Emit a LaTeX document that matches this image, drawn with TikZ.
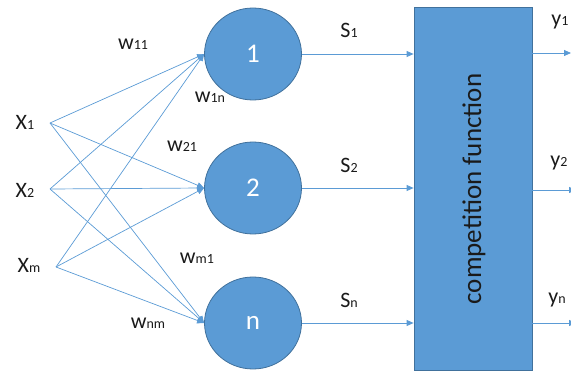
\documentclass[tikz,border=0pt]{standalone}
\usepackage{fontspec}
\setmainfont{Carlito}
\usetikzlibrary{arrows.meta,shapes.geometric}
\definecolor{blueF}{HTML}{5B9BD5}
\definecolor{blueD}{HTML}{41719C}
\definecolor{txt}{HTML}{1A1A1A}
\newcommand\mysub[1]{{\fontsize{14}{14}\selectfont #1}}
\tikzset{
  neuron/.style={ellipse, draw=blueD, fill=blueF, line width=0.8pt, minimum width=97pt, minimum height=92pt, inner sep=0pt, text=white, font=\fontsize{27}{27}\selectfont},
  lbl/.style={text=txt, inner sep=0pt, font=\fontsize{22}{22}\selectfont},
  conn/.style={draw=blueF, line width=0.8pt, -{Triangle[length=7pt,width=6pt]}},
  wire/.style={draw=blueF, line width=0.7pt, -{Triangle[length=7pt,width=6pt]}},
}
\begin{document}
\begin{tikzpicture}[x=1pt,y=-1pt]
\useasboundingbox (0,0) rectangle (571,374);
% competition box
\node (box) [draw=blueD, fill=blueF, line width=0.8pt, minimum width=118pt, minimum height=363pt, inner sep=0pt] at (473,188.5) {};
\node (boxtxt) [rotate=90, text=txt, font=\fontsize{27}{27}\selectfont, inner sep=0pt] at (474,189) {competition function};
% neurons
\node (n1) [neuron] at (253,54) {1};
\node (n2) [neuron] at (253,188) {2};
\node (nn) [neuron] at (253,323) {n};
% inputs
\node (x1) [lbl] at (25,122) {X\mysub{1}};
\node (x2) [lbl] at (25,190) {X\mysub{2}};
\node (xm) [lbl] at (29,265) {X\mysub{m}};
\coordinate (p1) at (50,123);
\coordinate (p2) at (50,189);
\coordinate (pm) at (56,267);
\foreach \p in {p1,p2,pm}{
  \foreach \n in {n1,n2,nn}{
    \draw[wire] (\p) -- (\n.west);
  }
}
% weights
\node (w11) [lbl] at (133,44) {w\mysub{11}};
\node (w1n) [lbl] at (210,97) {w\mysub{1n}};
\node (w21) [lbl] at (182,146) {w\mysub{21}};
\node (wm1) [lbl] at (197,258) {w\mysub{m1}};
\node (wnm) [lbl] at (148,323) {w\mysub{nm}};
% S connectors
\draw[conn] (n1.east) -- (n1.east -| box.west);
\draw[conn] (n2.east) -- (n2.east -| box.west);
\draw[conn] (nn.east) -- (nn.east -| box.west);
\node (s1) [lbl] at (349,30) {S\mysub{1}};
\node (s2) [lbl] at (349,165) {S\mysub{2}};
\node (sn) [lbl] at (349,300) {S\mysub{n}};
% outputs
\coordinate (o1) at (571,53);
\coordinate (o2) at (576,190);
\coordinate (on) at (576,323);
\draw[conn] (o1 -| box.east) -- (o1);
\draw[conn] (o2 -| box.east) -- (o2);
\draw[conn] (on -| box.east) -- (on);
\node (y1) [lbl] at (560,22) {y\mysub{1}};
\node (y2) [lbl] at (559,163) {y\mysub{2}};
\node (yn) [lbl] at (557,300) {y\mysub{n}};
\end{tikzpicture}
\end{document}
